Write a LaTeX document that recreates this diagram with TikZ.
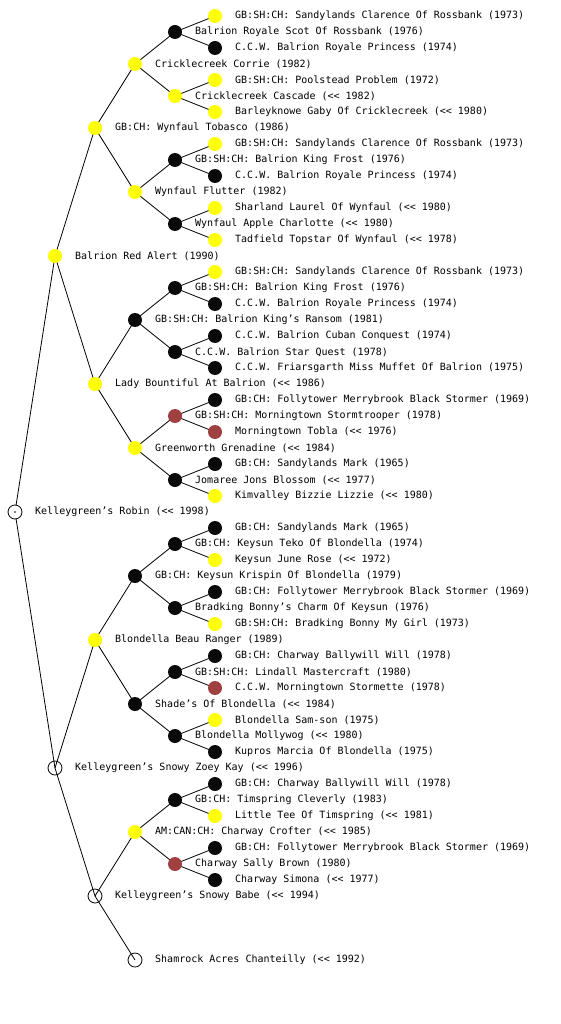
\documentclass[tikz,border=0pt]{standalone}
\usepackage{fontspec}
\newfontfamily\pf{DejaVu Sans Mono}
\usetikzlibrary{backgrounds}
\definecolor{dogyellow}{RGB}{255,255,0}
\definecolor{dogbrown}{RGB}{160,64,64}
\definecolor{dogblack}{RGB}{10,10,10}
\tikzset{
  dog/.style={circle,minimum size=14pt,inner sep=0pt},
  ylw/.style={dog,fill=dogyellow},
  blk/.style={dog,fill=dogblack},
  brn/.style={dog,fill=dogbrown},
  wht/.style={dog,draw=black,line width=0.8pt},
  rootdog/.style={wht,fill=white},
  lbl/.style={anchor=west,inner sep=0pt,font=\pf\fontsize{10pt}{12pt}\selectfont},
  edge/.style={draw=black,line width=0.8pt}
}
\newcommand\pn[5]{%
  \node[#4] (n#1) at (#2,#3) {};
  \node[lbl] (t#1) at (#2+20,#3) {#5};}
\begin{document}
\begin{tikzpicture}[x=1pt,y=-1pt]
\useasboundingbox (0,0) rectangle (560,1024);
% level 0
\pn{1}{15}{512}{rootdog}{Kelleygreen’s Robin (<< 1998)}
% level 1
\pn{2}{55}{256}{ylw}{Balrion Red Alert (1990)}
\pn{3}{55}{768}{wht}{Kelleygreen’s Snowy Zoey Kay (<< 1996)}
% level 2
\pn{4}{95}{128}{ylw}{GB:CH: Wynfaul Tobasco (1986)}
\pn{5}{95}{384}{ylw}{Lady Bountiful At Balrion (<< 1986)}
\pn{6}{95}{640}{ylw}{Blondella Beau Ranger (1989)}
\pn{7}{95}{896}{wht}{Kelleygreen’s Snowy Babe (<< 1994)}
% level 3
\pn{8}{135}{64}{ylw}{Cricklecreek Corrie (1982)}
\pn{9}{135}{192}{ylw}{Wynfaul Flutter (1982)}
\pn{10}{135}{320}{blk}{GB:SH:CH: Balrion King’s Ransom (1981)}
\pn{11}{135}{448}{ylw}{Greenworth Grenadine (<< 1984)}
\pn{12}{135}{576}{blk}{GB:CH: Keysun Krispin Of Blondella (1979)}
\pn{13}{135}{704}{blk}{Shade’s Of Blondella (<< 1984)}
\pn{14}{135}{832}{ylw}{AM:CAN:CH: Charway Crofter (<< 1985)}
\pn{15}{135}{960}{wht}{Shamrock Acres Chanteilly (<< 1992)}
% level 4
\pn{16}{175}{32}{blk}{Balrion Royale Scot Of Rossbank (1976)}
\pn{17}{175}{96}{ylw}{Cricklecreek Cascade (<< 1982)}
\pn{18}{175}{160}{blk}{GB:SH:CH: Balrion King Frost (1976)}
\pn{19}{175}{224}{blk}{Wynfaul Apple Charlotte (<< 1980)}
\pn{20}{175}{288}{blk}{GB:SH:CH: Balrion King Frost (1976)}
\pn{21}{175}{352}{blk}{C.C.W. Balrion Star Quest (1978)}
\pn{22}{175}{416}{brn}{GB:SH:CH: Morningtown Stormtrooper (1978)}
\pn{23}{175}{480}{blk}{Jomaree Jons Blossom (<< 1977)}
\pn{24}{175}{544}{blk}{GB:CH: Keysun Teko Of Blondella (1974)}
\pn{25}{175}{608}{blk}{Bradking Bonny’s Charm Of Keysun (1976)}
\pn{26}{175}{672}{blk}{GB:SH:CH: Lindall Mastercraft (1980)}
\pn{27}{175}{736}{blk}{Blondella Mollywog (<< 1980)}
\pn{28}{175}{800}{blk}{GB:CH: Timspring Cleverly (1983)}
\pn{29}{175}{864}{brn}{Charway Sally Brown (1980)}
% level 5
\pn{32}{215}{16}{ylw}{GB:SH:CH: Sandylands Clarence Of Rossbank (1973)}
\pn{33}{215}{48}{blk}{C.C.W. Balrion Royale Princess (1974)}
\pn{34}{215}{80}{ylw}{GB:SH:CH: Poolstead Problem (1972)}
\pn{35}{215}{112}{ylw}{Barleyknowe Gaby Of Cricklecreek (<< 1980)}
\pn{36}{215}{144}{ylw}{GB:SH:CH: Sandylands Clarence Of Rossbank (1973)}
\pn{37}{215}{176}{blk}{C.C.W. Balrion Royale Princess (1974)}
\pn{38}{215}{208}{ylw}{Sharland Laurel Of Wynfaul (<< 1980)}
\pn{39}{215}{240}{ylw}{Tadfield Topstar Of Wynfaul (<< 1978)}
\pn{40}{215}{272}{ylw}{GB:SH:CH: Sandylands Clarence Of Rossbank (1973)}
\pn{41}{215}{304}{blk}{C.C.W. Balrion Royale Princess (1974)}
\pn{42}{215}{336}{blk}{C.C.W. Balrion Cuban Conquest (1974)}
\pn{43}{215}{368}{blk}{C.C.W. Friarsgarth Miss Muffet Of Balrion (1975)}
\pn{44}{215}{400}{blk}{GB:CH: Follytower Merrybrook Black Stormer (1969)}
\pn{45}{215}{432}{brn}{Morningtown Tobla (<< 1976)}
\pn{46}{215}{464}{blk}{GB:CH: Sandylands Mark (1965)}
\pn{47}{215}{496}{ylw}{Kimvalley Bizzie Lizzie (<< 1980)}
\pn{48}{215}{528}{blk}{GB:CH: Sandylands Mark (1965)}
\pn{49}{215}{560}{ylw}{Keysun June Rose (<< 1972)}
\pn{50}{215}{592}{blk}{GB:CH: Follytower Merrybrook Black Stormer (1969)}
\pn{51}{215}{624}{ylw}{GB:SH:CH: Bradking Bonny My Girl (1973)}
\pn{52}{215}{656}{blk}{GB:CH: Charway Ballywill Will (1978)}
\pn{53}{215}{688}{brn}{C.C.W. Morningtown Stormette (1978)}
\pn{54}{215}{720}{ylw}{Blondella Sam-son (1975)}
\pn{55}{215}{752}{blk}{Kupros Marcia Of Blondella (1975)}
\pn{56}{215}{784}{blk}{GB:CH: Charway Ballywill Will (1978)}
\pn{57}{215}{816}{ylw}{Little Tee Of Timspring (<< 1981)}
\pn{58}{215}{848}{blk}{GB:CH: Follytower Merrybrook Black Stormer (1969)}
\pn{59}{215}{880}{blk}{Charway Simona (<< 1977)}
\fill (n1.center) circle (0.8pt);
\begin{scope}[on background layer]
  \foreach \p/\c in {1/2,1/3,2/4,2/5,3/6,3/7,4/8,4/9,5/10,5/11,6/12,6/13,7/14,7/15,
    8/16,8/17,9/18,9/19,10/20,10/21,11/22,11/23,12/24,12/25,13/26,13/27,14/28,14/29,
    16/32,16/33,17/34,17/35,18/36,18/37,19/38,19/39,20/40,20/41,21/42,21/43,
    22/44,22/45,23/46,23/47,24/48,24/49,25/50,25/51,26/52,26/53,27/54,27/55,
    28/56,28/57,29/58,29/59}
    \draw[edge] (n\p.center) -- (n\c.center);
\end{scope}
\end{tikzpicture}
\end{document}
